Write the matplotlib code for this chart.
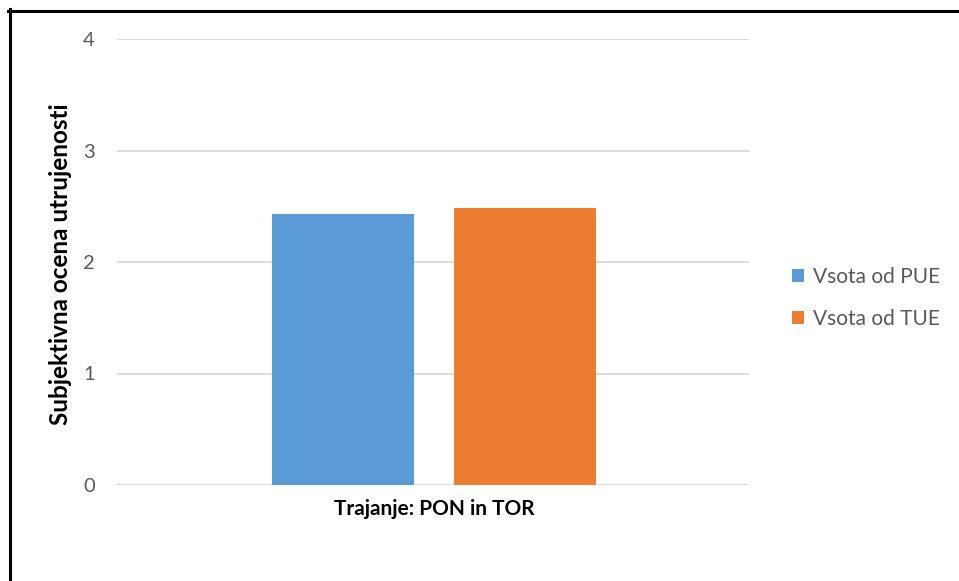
import matplotlib
matplotlib.use("Agg")
import matplotlib.pyplot as plt
from matplotlib.patches import Patch
from matplotlib.lines import Line2D

category = ["Trajanje: PON in TOR"]
series_names = ["Vsota od PUE", "Vsota od TUE"]
series_values = [2.43, 2.48]
series_colors = ["#5B9BD5", "#ED7D31"]
y_ticks = [0, 1, 2, 3, 4]

plt.rcParams["font.family"] = ["Lato", "DejaVu Sans"]

W, H = 959, 581
fig = plt.figure(figsize=(W / 100, H / 100), dpi=100)
ax = fig.add_axes([117 / W, 1 - 485 / H, (749 - 117) / W, (485 - 39) / H])

width = 0.225
offsets = [-0.143, 0.145]
for name, val, col, off in zip(series_names, series_values, series_colors, offsets):
    ax.bar(off, val, width=width, color=col, label=name, zorder=3)

ax.set_xlim(-0.5, 0.5)
ax.set_ylim(0, 4)
ax.set_yticks(y_ticks)
ax.set_yticklabels([str(t) for t in y_ticks])
ax.set_xticks([])
ax.grid(axis="y", color="#D9D9D9", linewidth=1.3, zorder=0)
for s in ax.spines.values():
    s.set_visible(False)
ax.tick_params(axis="y", length=0, pad=16, labelsize=14.5, labelcolor="#595959")

ax.set_xlabel(category[0], fontsize=15, fontweight="bold", color="black")
ax.xaxis.label.set_verticalalignment("baseline")
ax.xaxis.set_label_coords(0.502, -30 / 446)

ax.set_ylabel("Subjektivna ocena utrujenosti", fontsize=17.5, fontweight="bold",
              color="black")
ax.yaxis.label.set_verticalalignment("center")
ax.yaxis.set_label_coords(-56 / 632, 0.495)

handles = [Patch(facecolor=c, edgecolor="none") for c in series_colors]
leg = fig.legend(handles, series_names, loc="center left",
                 bbox_to_anchor=(773 / W, 1 - 298 / H), frameon=False,
                 fontsize=15, labelcolor="#595959", handlelength=0.6,
                 handleheight=0.6, handletextpad=0.4, labelspacing=1.05)

# outer frame: left and top edges
fig.add_artist(Line2D([9.5 / W, 9.5 / W], [0, 1 - 9 / H], transform=fig.transFigure,
                      color="black", linewidth=2.2))
fig.add_artist(Line2D([8 / W, 1], [1 - 10.5 / H, 1 - 10.5 / H], transform=fig.transFigure,
                      color="black", linewidth=2.2))

fig.savefig("out.png", dpi=100)
